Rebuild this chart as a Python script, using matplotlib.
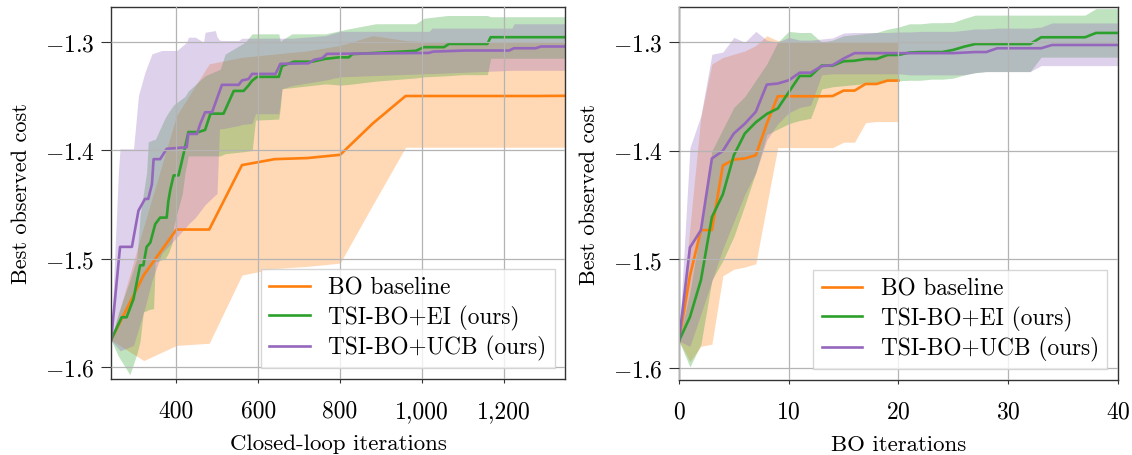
import matplotlib
matplotlib.use("Agg")
import matplotlib.pyplot as plt
import numpy as np
from matplotlib.ticker import FuncFormatter, MultipleLocator

plt.rcParams['font.family'] = 'cmr10'
plt.rcParams['mathtext.fontset'] = 'cm'
plt.rcParams['axes.formatter.use_mathtext'] = True
plt.rcParams['font.size'] = 16

# ---------------- BO baseline (20 BO iterations, 80 closed-loop steps each) ----------------
bo_iter = np.arange(21)
bo_mean = [-1.575, -1.515, -1.473, -1.473, -1.4135, -1.408, -1.407, -1.404, -1.375, -1.3497,
           -1.3497, -1.3497, -1.3497, -1.3497, -1.3495, -1.3445, -1.3445, -1.3384, -1.3384, -1.3353, -1.3353]
bo_upper = [-1.575, -1.47, -1.368, -1.32, -1.314, -1.311, -1.308, -1.303, -1.294, -1.2985,
            -1.30, -1.30, -1.30, -1.30, -1.30, -1.30, -1.30, -1.30, -1.30, -1.30, -1.30]
bo_lower = [-1.575, -1.594, -1.580, -1.578, -1.515, -1.509, -1.507, -1.504, -1.45, -1.397,
            -1.397, -1.397, -1.397, -1.397, -1.397, -1.392, -1.392, -1.374, -1.373, -1.373, -1.373]
bo_closed_loop = 240 + 80 * bo_iter

# ---------------- TSI-BO+EI vs closed-loop iterations ----------------
ei_cl_x = [240, 266, 278, 295, 311, 319, 327, 336, 348, 360, 376, 380, 385, 393, 405, 421, 429,
           454, 470, 483, 515, 540, 564, 576, 585, 597, 650, 658, 687, 732, 764, 797, 821, 830,
           985, 1005, 1054, 1066, 1160, 1168, 1350]
ei_cl_mean = [-1.575, -1.554, -1.554, -1.537, -1.506, -1.506, -1.489, -1.485, -1.468, -1.462,
              -1.462, -1.447, -1.436, -1.423, -1.423, -1.397, -1.383, -1.383, -1.381, -1.366,
              -1.366, -1.345, -1.345, -1.340, -1.3355, -1.332, -1.332, -1.322, -1.318, -1.318,
              -1.3154, -1.314, -1.314, -1.311, -1.308, -1.3046, -1.3046, -1.3016, -1.3016,
              -1.2954, -1.2954]
ei_cl_band_x = [240, 258, 286, 303, 311, 319, 327, 331, 344, 348, 372, 380, 389, 393, 414, 421,
                429, 470, 507, 519, 568, 585, 593, 650, 654, 658, 682, 764, 801, 821, 887, 985,
                1005, 1062, 1100, 1160, 1168, 1350]
ei_cl_upper = [-1.575, -1.55, -1.52, -1.50, -1.46, -1.44, -1.42, -1.392, -1.39, -1.39, -1.37,
               -1.365, -1.36, -1.358, -1.352, -1.35, -1.345, -1.331, -1.325, -1.311, -1.30,
               -1.2923, -1.2923, -1.2923, -1.2995, -1.298, -1.2923, -1.2923, -1.2893, -1.2877,
               -1.283, -1.283, -1.2779, -1.2754, -1.2754, -1.2754, -1.2765, -1.2765]
ei_cl_lower = [-1.575, -1.59, -1.607, -1.588, -1.576, -1.549, -1.548, -1.547, -1.546, -1.503,
               -1.50, -1.495, -1.486, -1.47, -1.44, -1.42, -1.405, -1.405, -1.405, -1.403,
               -1.401, -1.40, -1.372, -1.371, -1.36, -1.343, -1.342, -1.3385, -1.3396, -1.339,
               -1.336, -1.333, -1.332, -1.331, -1.33, -1.33, -1.3148, -1.3148]

# ---------------- TSI-BO+UCB vs closed-loop iterations ----------------
ucb_cl_x = [240, 262, 291, 307, 323, 331, 340, 344, 360, 376, 425, 429, 450, 458, 470, 487, 511,
            552, 560, 576, 585, 642, 654, 723, 736, 756, 768, 1017, 1027, 1107, 1213, 1225, 1278,
            1291, 1350]
ucb_cl_mean = [-1.5755, -1.489, -1.489, -1.4555, -1.4447, -1.4447, -1.431, -1.408, -1.408,
               -1.3985, -1.397, -1.3847, -1.3847, -1.3755, -1.3647, -1.3647, -1.3394, -1.3394,
               -1.3354, -1.334, -1.3293, -1.3293, -1.320, -1.3195, -1.3163, -1.3148, -1.3108,
               -1.3099, -1.3087, -1.3077, -1.3077, -1.3056, -1.3056, -1.304, -1.304]
ucb_cl_band_x = [240, 258, 262, 295, 307, 323, 340, 364, 401, 425, 429, 446, 466, 470, 495, 499,
                 505, 511, 552, 560, 585, 593, 650, 658, 683, 764, 800, 1017, 1025, 1220, 1225, 1350]
ucb_cl_upper = [-1.575, -1.42, -1.3985, -1.3985, -1.3493, -1.3277, -1.3108, -1.3077, -1.3077,
                -1.30, -1.2954, -1.2954, -1.30, -1.2908, -1.2893, -1.295, -1.298, -1.2985,
                -1.2985, -1.2963, -1.2963, -1.2963, -1.2963, -1.2963, -1.2963, -1.294, -1.29,
                -1.29, -1.287, -1.287, -1.283, -1.283]
ucb_cl_lower = [-1.5755, -1.583, -1.585, -1.58, -1.565, -1.545, -1.52, -1.495, -1.48, -1.47,
                -1.468, -1.462, -1.452, -1.45, -1.441, -1.44, -1.38, -1.38, -1.377, -1.376,
                -1.375, -1.366, -1.366, -1.343, -1.34, -1.335, -1.332, -1.329, -1.329, -1.326,
                -1.326, -1.326]

# ---------------- TSI-BO+EI / UCB vs BO iterations (0..40) ----------------
tsi_iter = np.arange(41)
ei_mean = [-1.575, -1.553, -1.519, -1.461, -1.44, -1.404, -1.384, -1.3737, -1.366, -1.361,
           -1.346, -1.331, -1.331, -1.3215, -1.3215, -1.3175, -1.317, -1.3154, -1.3154, -1.3117,
           -1.3117, -1.3095, -1.309, -1.309, -1.309, -1.307, -1.304, -1.3016, -1.3016, -1.3016,
           -1.3016, -1.3016, -1.3016, -1.2954, -1.2954, -1.2954, -1.2954, -1.2954, -1.2914,
           -1.2914, -1.2914]
ei_upper = [-1.575, -1.53, -1.47, -1.40, -1.38, -1.36, -1.35, -1.335, -1.32, -1.30, -1.29,
            -1.291, -1.291, -1.300, -1.298, -1.294, -1.293, -1.292, -1.291, -1.288, -1.286,
            -1.283, -1.283, -1.282, -1.282, -1.2816, -1.278, -1.275, -1.275, -1.275, -1.275,
            -1.275, -1.275, -1.275, -1.275, -1.275, -1.275, -1.275, -1.269, -1.269, -1.269]
ei_lower = [-1.575, -1.599, -1.578, -1.519, -1.501, -1.479, -1.45, -1.42, -1.385, -1.38,
            -1.375, -1.372, -1.37, -1.343, -1.341, -1.34, -1.339, -1.338, -1.337, -1.336,
            -1.3355, -1.335, -1.335, -1.334, -1.334, -1.333, -1.330, -1.328, -1.327, -1.327,
            -1.327, -1.327, -1.327, -1.3137, -1.3137, -1.3137, -1.3137, -1.3137, -1.3137,
            -1.3137, -1.3137]
ucb_mean = [-1.575, -1.489, -1.473, -1.407, -1.400, -1.384, -1.375, -1.364, -1.339, -1.338,
            -1.335, -1.328, -1.328, -1.322, -1.321, -1.315, -1.310, -1.310, -1.310, -1.310,
            -1.310, -1.310, -1.310, -1.310, -1.310, -1.310, -1.3095, -1.309, -1.309, -1.3055,
            -1.3055, -1.3055, -1.3055, -1.3055, -1.3025, -1.3025, -1.3025, -1.3025, -1.3025,
            -1.3025, -1.3025]
ucb_upper = [-1.575, -1.397, -1.3675, -1.311, -1.309, -1.2955, -1.300, -1.290, -1.298, -1.300,
             -1.2955, -1.298, -1.298, -1.297, -1.296, -1.2915, -1.291, -1.291, -1.291, -1.291,
             -1.2905, -1.2905, -1.290, -1.290, -1.290, -1.290, -1.289, -1.2877, -1.2877, -1.287,
             -1.287, -1.287, -1.287, -1.286, -1.2822, -1.2822, -1.2822, -1.2822, -1.2822,
             -1.2822, -1.2822]
ucb_lower = [-1.575, -1.58, -1.55, -1.52, -1.49, -1.465, -1.44, -1.42, -1.39, -1.375, -1.365,
             -1.36, -1.358, -1.33, -1.329, -1.329, -1.329, -1.329, -1.329, -1.329, -1.329,
             -1.33, -1.33, -1.33, -1.33, -1.33, -1.33, -1.328, -1.327, -1.327, -1.327, -1.327,
             -1.327, -1.3215, -1.3215, -1.3215, -1.3215, -1.3215, -1.3215, -1.3215, -1.3215]

C_BO = '#ff7f0e'
C_EI = '#2ca02c'
C_UCB = '#9467bd'

fig = plt.figure(figsize=(11.32, 4.56), dpi=100)
ax1 = fig.add_axes([0.0981, 0.1667, 0.4011, 0.8158])
ax2 = fig.add_axes([0.5998, 0.1645, 0.3878, 0.818])


def draw_series(ax, x, mean, bx, low, up, color, label):
    ax.plot(x, mean, color=color, lw=1.9, label=label)
    ax.fill_between(bx, low, up, color=color, alpha=0.3, lw=0)


# left: closed-loop iterations
draw_series(ax1, bo_closed_loop, bo_mean, bo_closed_loop, bo_lower, bo_upper, C_BO, 'BO baseline')
draw_series(ax1, ei_cl_x, ei_cl_mean, ei_cl_band_x, ei_cl_lower, ei_cl_upper, C_EI, 'TSI-BO+EI (ours)')
draw_series(ax1, ucb_cl_x, ucb_cl_mean, ucb_cl_band_x, ucb_cl_lower, ucb_cl_upper, C_UCB, 'TSI-BO+UCB (ours)')
ax1.set_xlim(240, 1350)
ax1.xaxis.set_major_locator(MultipleLocator(200))
ax1.xaxis.set_major_formatter(FuncFormatter(lambda v, p: f"{v:,.0f}"))
ax1.set_xlabel('Closed-loop iterations', fontsize=16.5, labelpad=8)

# right: BO iterations
draw_series(ax2, bo_iter, bo_mean, bo_iter, bo_lower, bo_upper, C_BO, 'BO baseline')
draw_series(ax2, tsi_iter, ei_mean, tsi_iter, ei_lower, ei_upper, C_EI, 'TSI-BO+EI (ours)')
draw_series(ax2, tsi_iter, ucb_mean, tsi_iter, ucb_lower, ucb_upper, C_UCB, 'TSI-BO+UCB (ours)')
ax2.set_xlim(0, 40)
ax2.xaxis.set_major_locator(MultipleLocator(10))
ax2.set_xlabel('BO iterations', fontsize=16.5, labelpad=8)

for ax in (ax1, ax2):
    ax.set_ylim(-1.611, -1.2675)
    ax.yaxis.set_major_locator(MultipleLocator(0.1))
    ax.set_ylabel('Best observed cost', fontsize=16, labelpad=10)
    ax.grid(True, color='#b4b4b4', lw=0.9)
    ax.set_axisbelow(False)
    for s in ax.spines.values():
        s.set_color('#333333')
        s.set_linewidth(1.0)
    ax.tick_params(axis='y', labelsize=17, color='#333333', length=7, pad=5)
    ax.tick_params(axis='x', labelsize=17, color='#333333', length=3, pad=12)
    leg = ax.legend(loc='lower right', fontsize=16.8, fancybox=False, edgecolor='#cccccc',
                    framealpha=0.8, handlelength=1.75, labelspacing=0.24,
                    borderaxespad=0.45, borderpad=0.35)

fig.savefig('out.png', dpi=100)
